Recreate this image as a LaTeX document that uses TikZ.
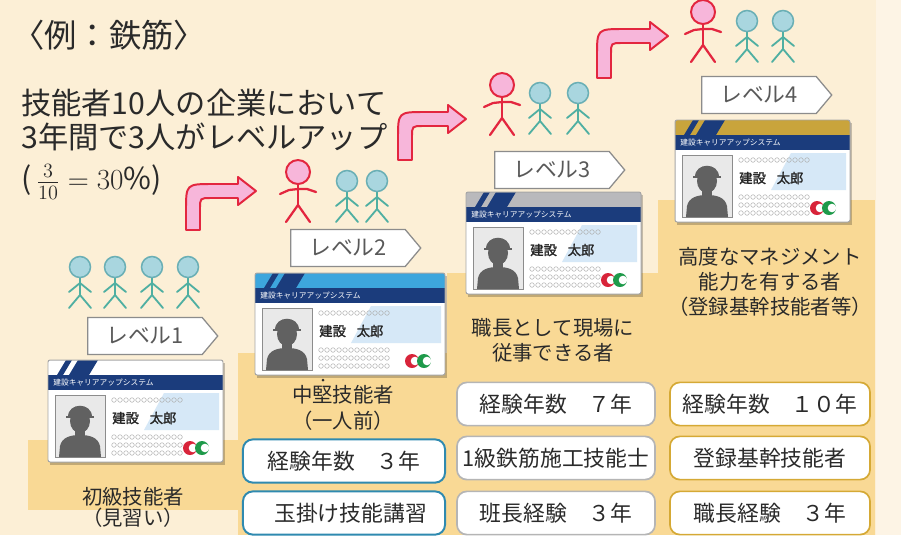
\documentclass[tikz,border=0pt]{standalone}
\usepackage{fontspec}
\setmainfont{Noto Sans CJK JP}
\newfontfamily\namefont{Noto Sans CJK JP}[FakeBold=1.6]
\usepackage{tikz}
\usetikzlibrary{shapes.symbols}
\definecolor{cbg}{HTML}{FCEFD6}
\definecolor{cbgR}{HTML}{FDF4E5}
\definecolor{cstepF}{HTML}{F9D995}
\definecolor{cnavy}{HTML}{1B3C7C}
\definecolor{cskyA}{HTML}{3DA6DD}
\definecolor{cgrayA}{HTML}{B9B9BC}
\definecolor{cgoldA}{HTML}{C9A43C}
\definecolor{clblue}{HTML}{D6E8F7}
\definecolor{cphoto}{HTML}{E9E9E9}
\definecolor{cpink}{HTML}{F7B6DA}
\definecolor{cred}{HTML}{E3263F}
\definecolor{cheadT}{HTML}{A9D6DF}
\definecolor{cheadTD}{HTML}{6AAFB5}
\definecolor{cteal}{HTML}{4FAFA2}
\definecolor{cboxB}{HTML}{2F8AB0}
\definecolor{cboxG}{HTML}{B5B5B5}
\definecolor{cboxY}{HTML}{D5A935}
\definecolor{ctext}{HTML}{2A2A2A}
\definecolor{clogoR}{HTML}{D8243A}
\definecolor{clogoG}{HTML}{1E9A4A}
\tikzset{
  intro/.style={anchor=west, inner sep=0pt, text=ctext, font=\fontsize{21.5}{24}\selectfont},
  lvtag/.style={shape=signal, signal to=east, signal pointer angle=100,
                draw=black!45, line width=0.9pt, fill=white, inner sep=0pt,
                minimum width=3.25cm, minimum height=0.92cm,
                text=black!65, font=\fontsize{15.5}{18}\selectfont},
  desc/.style={align=center, inner sep=0pt, text=ctext, font=\fontsize{14.5}{17.5}\selectfont},
  reqbox/.style={draw, fill=white, rounded corners=7pt, line width=1.2pt,
                 minimum height=1.08cm, inner sep=2pt, text=ctext,
                 font=\fontsize{15.5}{18}\selectfont},
  reqB/.style={reqbox, draw=cboxB, line width=1.4pt, minimum width=5.05cm},
  reqG/.style={reqbox, draw=cboxG, minimum width=4.95cm},
  reqY/.style={reqbox, draw=cboxY, minimum width=5cm},
  benta/.style={fill=cpink, draw=cred, line width=1.4pt, line join=round},
  redlimb/.style={draw=cred, line width=1.6pt, line cap=round, line join=round},
  teallimb/.style={draw=cteal, line width=1.3pt, line cap=round, line join=round},
  % stick figures, origin at the feet
  pics/redman/.style={code={
    \draw[redlimb] (0,-38) -- (0,-17);
    \draw[redlimb] (-18,-28) -- (-9,-32) -- (0,-33) -- (9,-33) -- (18,-30);
    \draw[redlimb] (-12,0) -- (0,-17) -- (12,0);
    \draw[fill=cpink, draw=cred, line width=1.4pt] (0,-50) circle[radius=12];
  }},
  pics/tealman/.style={code={
    \draw[teallimb] (0,-30) -- (0,-13);
    \draw[teallimb] (-11,-16) -- (0,-25) -- (11,-16);
    \draw[teallimb] (-11,0) -- (0,-13) -- (11,0);
    \draw[fill=cheadT, draw=cheadTD, line width=1.1pt] (0,-41) circle[radius=10.5];
  }},
  % card: #1 accent colour, #2 width
  pics/idcard/.style 2 args={code={
    \fill[black, opacity=0.22] (2,3) rectangle (#2+2,105);
    \fill[white] (0,0) rectangle (#2,102);
    \fill[#1] (0,0) rectangle (#2,15);
    \fill[cnavy] (0,15) rectangle (#2,30);
    \fill[cnavy] (9,15) -- (15,15) -- (24,0) -- (18,0) -- cycle;
    \fill[cnavy] (21,15) -- (41,15) -- (50,0) -- (30,0) -- cycle;
    \node[anchor=west, inner sep=0pt, text=white, font=\fontsize{5.5}{6}\selectfont] (-sys) at (5,23) {建設キャリアアップシステム};
    \fill[clblue] (116,33) -- (#2-4,33) -- (#2-4,70) -- (96,70) -- cycle;
    \draw[fill=cphoto, draw=black!45, line width=0.6pt] (7,35) rectangle (57,97);
    \fill[black!62] (11,97) -- (12,86) .. controls (14,77) and (23,75) .. (32,75)
      .. controls (41,75) and (50,77) .. (52,86) -- (53,97) -- cycle;
    \fill[black!62] (27,70) rectangle (37,78);
    \fill[black!62] (32,61) ellipse[x radius=10, y radius=12];
    \fill[black!62] (20,57) .. controls (20,42) and (44,42) .. (44,57) -- cycle;
    \draw[black!62, line width=1pt] (18,57) -- (46,57);
    \foreach \r in {40,77,85,93}
      \foreach \c in {0,...,11}
        \draw[black!32, line width=0.35pt] (66+\c*6,\r) circle[radius=2.3];
    \node[anchor=west, inner sep=0pt, text=black!85, font=\namefont\fontsize{9.5}{10}\selectfont] (-name) at (64,58) {建設\hspace{0.8em}太郎};
    \fill[clogoR] (#2-33,88) circle[radius=7];
    \fill[white] (#2-30,88) circle[radius=4.3];
    \fill[clogoG] (#2-21,88) circle[radius=7];
    \fill[white] (#2-18,88) circle[radius=4.3];
    \draw[black!35, line width=0.7pt, rounded corners=1.5pt] (0,0) rectangle (#2,102);
  }},
}
% bent arrow: centre x of the shaft, bottom y, centre y of the top run, tip x
\newcommand\bentarrow[4]{%
  \draw[benta] (#1-7,#2) -- (#1-7,#3+20) .. controls (#1-7,#3-7) .. (#1+20,#3-7)
    -- (#4-18,#3-7) -- (#4-18,#3-14) -- (#4,#3) -- (#4-18,#3+14) -- (#4-18,#3+7)
    -- (#1+18,#3+7) .. controls (#1+7,#3+7) .. (#1+7,#3+18) -- (#1+7,#2) -- cycle;}

\begin{document}
\begin{tikzpicture}[x=0.025cm, y=-0.025cm]
  \useasboundingbox (0,0) rectangle (901,535);
  % background and steps
  \fill[cbg] (0,0) rectangle (901,535);
  \fill[cbgR] (876,0) rectangle (901,535);
  \fill[cstepF] (28,440) rectangle (238,510);
  \fill[cstepF] (238,353) rectangle (447,535);
  \fill[cstepF] (447,273) rectangle (658,535);
  \fill[cstepF] (658,200) rectangle (875,535);

  % heading
  \node[anchor=west, inner sep=0pt, text=ctext, font=\fontsize{23}{26}\selectfont] (title) at (12,35) {〈例：鉄筋〉};
  \node[intro] (intro1) at (21,103) {技能者10人の企業において};
  \node[intro] (intro2) at (21,137) {3年間で3人がレベルアップ};
  \node[intro] (ratio) at (21,182) {(\,$\frac{3}{10}=30\%$)};

  % people
  \foreach \x in {80,115,152,188} \pic at (\x,308) {tealman};
  \pic at (298,222) {redman};
  \foreach \x in {347,377} \pic at (\x,222) {tealman};
  \pic at (502,135) {redman};
  \foreach \x in {540,578} \pic at (\x,134) {tealman};
  \pic at (703,62) {redman};
  \foreach \x in {747,783} \pic at (\x,62) {tealman};

  % level up
  \bentarrow{193}{230}{191}{256}
  \bentarrow{405}{160}{119}{466}
  \bentarrow{604}{78}{36}{668}

  % levels
  \node[lvtag] (lv1) at (145,336) {レベル1\hspace{1.2em}};
  \node[lvtag] (lv2) at (348,248) {レベル2\hspace{1.2em}};
  \node[lvtag] (lv3) at (552,170) {レベル3\hspace{1.2em}};
  \node[lvtag] (lv4) at (759,95) {レベル4\hspace{1.2em}};

  \pic (card1) at (48,360) {idcard={white}{175}};
  \pic (card2) at (255,273) {idcard={cskyA}{190}};
  \pic (card3) at (466,192) {idcard={cgrayA}{175}};
  \pic (card4) at (675,120) {idcard={cgoldA}{175}};

  % who they are
  \node[desc, font=\fontsize{14.5}{15}\selectfont] (d1) at (133,507) {初級技能者\\（見習い）};
  \fill[ctext] (323,380) circle[radius=1.5];
  \node[desc, font=\fontsize{14.5}{18.5}\selectfont] (d2) at (343,408) {中堅技能者\\（一人前）};
  \node[desc] (d3) at (553,340) {職長として現場に\\従事できる者};
  \node[desc] (d4) at (770,282) {高度なマネジメント\\能力を有する者\\（登録基幹技能者等）};

  % requirements
  \node[reqB] (r21) at (344,461) {経験年数\hspace{1em}３年};
  \node[reqB] (r22) at (344,513) {\hspace{0.6em}玉掛け技能講習};
  \node[reqG] (r31) at (556,404) {経験年数\hspace{1em}７年};
  \node[reqG] (r32) at (556,458) {1級鉄筋施工技能士};
  \node[reqG] (r33) at (556,513) {班長経験\hspace{1em}３年};
  \node[reqY] (r41) at (770,404) {経験年数\hspace{1em}１０年};
  \node[reqY] (r42) at (770,458) {登録基幹技能者};
  \node[reqY] (r43) at (770,513) {職長経験\hspace{1em}３年};
\end{tikzpicture}
\end{document}
